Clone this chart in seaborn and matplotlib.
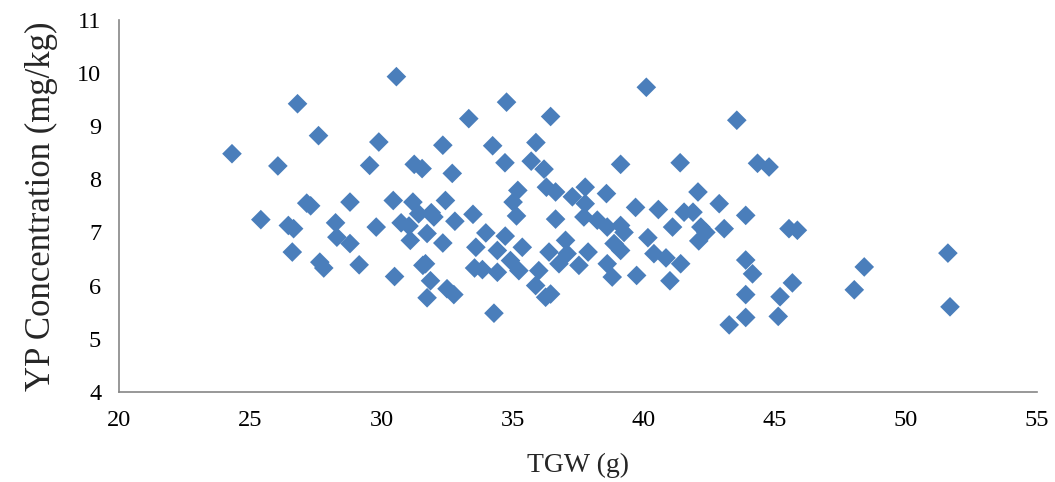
import matplotlib
matplotlib.use("Agg")
import matplotlib.pyplot as plt
import seaborn as sns
import pandas as pd

tgw = [24.3, 25.4, 26.05, 26.45, 26.65, 26.6, 26.8, 27.15, 27.3, 27.6, 27.65, 27.8,
       28.25, 28.3, 28.8, 28.8, 29.15, 29.55, 29.8, 29.9, 30.45, 30.5, 30.57, 30.75,
       31.05, 31.1, 31.2, 31.25, 31.55, 31.42, 31.58, 31.68, 31.74, 31.87, 31.74,
       31.9, 32.0, 32.34, 32.34, 32.44, 32.5, 32.7, 32.76, 32.8, 33.33, 33.49, 33.6,
       33.55, 33.85, 33.98, 34.24, 34.29, 34.42, 34.42, 34.72, 34.71, 34.77, 34.92,
       35.24, 35.02, 35.2, 35.15, 35.37, 35.71, 35.89, 35.88, 36.0, 36.2, 36.29,
       36.64, 36.26, 36.39, 36.45, 36.45, 36.64, 36.77, 37.02, 37.08, 37.28, 37.53,
       37.72, 37.77, 37.77, 37.88, 38.23, 38.58, 38.61, 38.61, 38.87, 38.8, 39.12,
       39.12, 39.12, 39.25, 39.69, 39.73, 40.1, 40.16, 40.39, 40.56, 40.85, 41.0,
       41.1, 41.39, 41.41, 41.54, 41.88, 42.07, 42.1, 42.18, 42.37, 42.88, 43.07,
       43.26, 43.55, 43.89, 43.89, 44.15, 43.89, 43.89, 44.34, 44.78, 45.13, 45.2,
       45.54, 45.86, 45.67, 48.03, 48.41, 51.6, 51.68]
yp = [8.48, 7.24, 8.25, 7.13, 7.07, 6.63, 9.42, 7.55, 7.50, 8.82, 6.44, 6.33,
      7.18, 6.91, 7.57, 6.79, 6.39, 8.26, 7.10, 8.70, 7.60, 6.17, 9.93, 7.18,
      7.12, 6.85, 7.57, 8.28, 8.20, 7.35, 6.38, 6.41, 6.98, 6.09, 5.77,
      7.37, 7.29, 6.80, 8.64, 7.60, 5.94, 8.11, 5.83, 7.21, 9.14, 7.34, 6.72,
      6.33, 6.30, 6.99, 8.63, 5.48, 6.66, 6.25, 6.93, 8.31, 9.45, 6.47,
      6.28, 7.57, 7.79, 7.31, 6.72, 8.34, 8.69, 6.00, 6.28, 8.19, 7.85,
      7.76, 5.78, 6.63, 9.18, 5.84, 7.25, 6.41, 6.85, 6.60, 7.67, 6.38,
      7.29, 7.85, 7.54, 6.63, 7.23, 7.73, 7.10, 6.41, 6.79, 6.16, 7.13,
      8.28, 6.66, 7.00, 7.47, 6.19, 9.73, 6.90, 6.60, 7.43, 6.52, 6.09,
      7.10, 8.31, 6.41, 7.38, 7.38, 7.76, 6.84, 7.10, 7.00, 7.54, 7.07,
      5.26, 9.11, 7.32, 6.48, 6.22, 5.83, 5.40, 8.30, 8.23, 5.42, 5.79,
      7.07, 7.04, 6.05, 5.92, 6.35, 6.61, 5.60]

x_ticks = [20, 25, 30, 35, 40, 45, 50, 55]
y_ticks = [4, 5, 6, 7, 8, 9, 10, 11]

df = pd.DataFrame({"TGW": tgw, "YP": yp})

sns.set_style("white")
plt.rcParams["font.family"] = ["Liberation Serif", "DejaVu Serif"]

fig = plt.figure(figsize=(10.55, 4.82), dpi=100)
ax = fig.add_axes([0.113, 0.187, 0.870, 0.772])

sns.scatterplot(data=df, x="TGW", y="YP", marker="D", s=100, color="#4a7ebb",
                edgecolor="none", linewidth=0, ax=ax, zorder=3, clip_on=False)

ax.set_xlim(20, 55)
ax.set_ylim(4, 11)
ax.set_xticks(x_ticks)
ax.set_yticks(y_ticks)
ax.set_xticklabels([str(v) for v in x_ticks], fontsize=17.5)
ax.set_yticklabels([str(v) for v in y_ticks], fontsize=17.5)
ax.set_xlabel("TGW (g)", fontsize=20, labelpad=16)
ax.set_ylabel("YP Concentration (mg/kg)", fontsize=25, labelpad=14)

for side in ["top", "right"]:
    ax.spines[side].set_visible(False)
for side in ["left", "bottom"]:
    ax.spines[side].set_color("#868686")
    ax.spines[side].set_linewidth(1.2)
ax.tick_params(axis="both", direction="out", length=6, width=1.2, color="#868686",
               labelcolor="black", pad=7)
ax.grid(False)

fig.savefig("out.png", dpi=100)
